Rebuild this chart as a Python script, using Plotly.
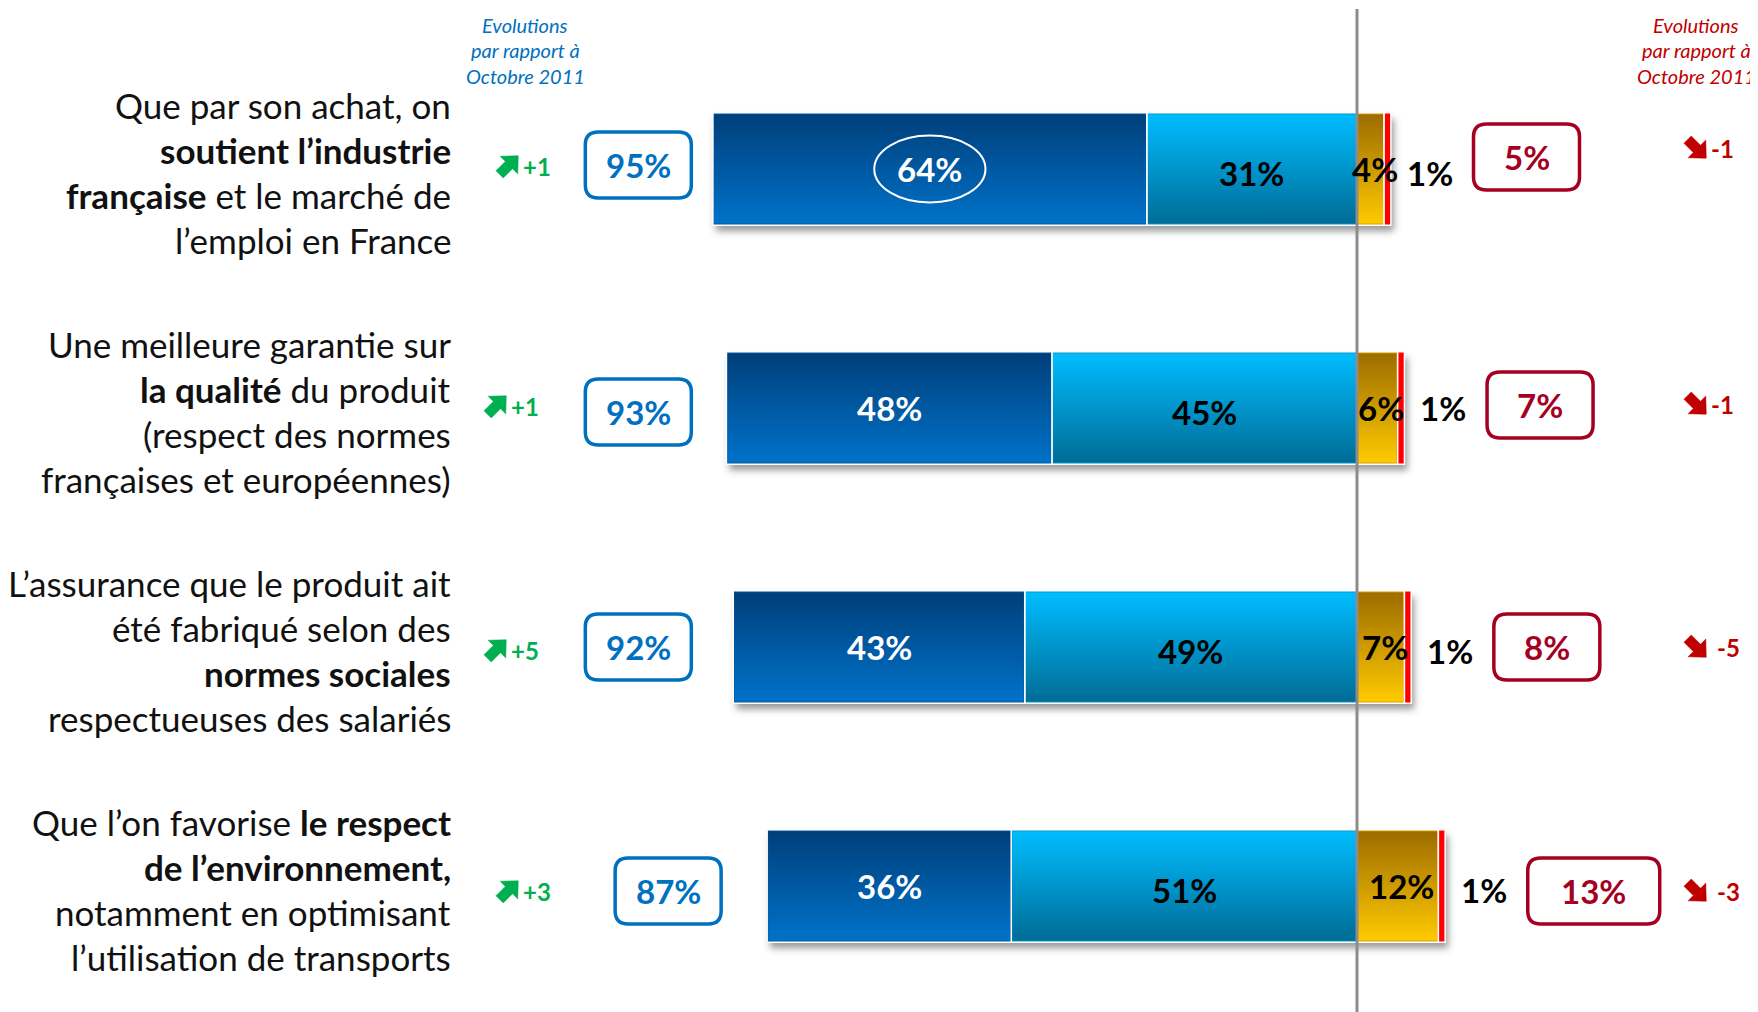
import base64
import math
import plotly.graph_objects as go

# ---------------- data ----------------
categories = [
    "Que par son achat, on<br><b>soutient l’industrie</b><br><b>française</b> et le marché de<br>l’emploi en France",
    "Une meilleure garantie sur<br><b>la qualité</b> du produit<br>(respect des normes<br>françaises et européennes)",
    "L’assurance que le produit ait<br>été fabriqué selon des<br><b>normes sociales</b><br>respectueuses des salariés",
    "Que l’on favorise <b>le respect</b><br><b>de l’environnement,</b><br>notamment en optimisant<br>l’utilisation de transports",
]
tout_a_fait = [64, 48, 43, 36]
plutot = [31, 45, 49, 51]
plutot_pas = [4, 6, 7, 12]
pas_du_tout = [1, 1, 1, 1]
total_favorable = [95, 93, 92, 87]
total_defavorable = [5, 7, 8, 13]
evol_favorable = ["+1", "+1", "+5", "+3"]
evol_defavorable = ["-1", "-1", "-5", "-3"]
header_text = ["Evolutions", "par rapport à", "Octobre 2011"]

# ---------------- style ----------------
OFF = 8  # default page body margin
W, H = 1758 - OFF, 1012 - OFF
X0_PX = 1357.0 - OFF
PX_PER_UNIT = 6.78
XMIN = -X0_PX / PX_PER_UNIT
XMAX = (W - X0_PX) / PX_PER_UNIT
ROW0_PX, ROW_STEP = 169.0 - OFF, 239.0
YTOP = -ROW0_PX / ROW_STEP
YBOT = (H - ROW0_PX) / ROW_STEP
BAR_W = 0.47
BAR_H_PX = BAR_W * ROW_STEP
FONT = "Lato"
BLUE = "#0070c0"
DARKRED = "#a50021"
ARROW_RED = "#c00000"
GREEN = "#00b050"


def px(x):
    return (x - OFF) / W


def py(y):
    return 1 - (y - OFF) / H


rows = list(range(len(categories)))

fig = go.Figure()
fig.add_trace(go.Bar(y=rows, x=[-v for v in plutot], orientation="h", width=BAR_W,
                     marker=dict(color="#0096cc", line=dict(color="white", width=1.5)),
                     name="Plutôt", hoverinfo="skip"))
fig.add_trace(go.Bar(y=rows, x=[-v for v in tout_a_fait], orientation="h", width=BAR_W,
                     marker=dict(color="#0058a0", line=dict(color="white", width=1.5)),
                     name="Tout à fait", hoverinfo="skip"))
fig.add_trace(go.Bar(y=rows, x=plutot_pas, orientation="h", width=BAR_W,
                     marker=dict(color="#d69c00", line=dict(color="white", width=1.5)),
                     name="Plutôt pas", hoverinfo="skip"))
fig.add_trace(go.Bar(y=rows, x=pas_du_tout, orientation="h", width=BAR_W,
                     marker=dict(color="#ff0000", line=dict(color="white", width=1.5)),
                     name="Pas du tout", hoverinfo="skip"))


def b64svg(svg):
    return "data:image/svg+xml;base64," + base64.b64encode(svg.encode()).decode()


def grad_uri(top, bottom):
    svg = ('<svg xmlns="http://www.w3.org/2000/svg" width="10" height="100" viewBox="0 0 10 100" '
           'preserveAspectRatio="none"><defs><linearGradient id="g" x1="0" y1="0" x2="0" y2="1">'
           f'<stop offset="0" stop-color="{top}"/><stop offset="1" stop-color="{bottom}"/>'
           '</linearGradient></defs><rect width="10" height="100" fill="url(#g)"/></svg>')
    return b64svg(svg)


def shadow_uri(wpx, hpx, pad):
    tw, th = wpx + 2 * pad, hpx + 2 * pad
    svg = (f'<svg xmlns="http://www.w3.org/2000/svg" width="{tw:.1f}" height="{th:.1f}" '
           f'viewBox="0 0 {tw:.1f} {th:.1f}" preserveAspectRatio="none"><defs>'
           '<filter id="b" x="-10%" y="-30%" width="120%" height="160%">'
           '<feGaussianBlur stdDeviation="3.5"/></filter></defs>'
           f'<rect x="{pad + 3}" y="{pad + 6}" width="{wpx:.1f}" height="{hpx:.1f}" fill="#555555" '
           'fill-opacity="0.6" filter="url(#b)"/></svg>')
    return b64svg(svg)


G_TOUT = grad_uri("#003f7a", "#0072c9")
G_PLUTOT = grad_uri("#00bdff", "#006c96")
G_PP = grad_uri("#9c6c00", "#ffca00")
gap = 1.0 / PX_PER_UNIT

images = []
shapes = []
annotations = []
PAD = 16
for i in rows:
    # drop shadow
    span = total_favorable[i] + total_defavorable[i]
    wpx = span * PX_PER_UNIT
    images.append(dict(source=shadow_uri(wpx, BAR_H_PX, PAD), xref="x", yref="y",
                       x=-total_favorable[i] - PAD / PX_PER_UNIT, y=i - BAR_W / 2 - PAD / ROW_STEP,
                       sizex=(wpx + 2 * PAD) / PX_PER_UNIT, sizey=(BAR_H_PX + 2 * PAD) / ROW_STEP,
                       xanchor="left", yanchor="top", sizing="stretch", layer="below"))
    segs = [
        (-(plutot[i] + tout_a_fait[i]), tout_a_fait[i], G_TOUT),
        (-plutot[i], plutot[i], G_PLUTOT),
        (0, plutot_pas[i], G_PP),
    ]
    for start, size, src in segs:
        images.append(dict(source=src, xref="x", yref="y", x=start + gap, y=i - BAR_W / 2 + 0.006,
                           sizex=size - 2 * gap, sizey=BAR_W - 0.012, xanchor="left", yanchor="top",
                           sizing="stretch", layer="above"))

# vertical zero line
shapes.append(dict(type="line", xref="x", yref="paper", x0=0, x1=0, y0=0, y1=py(9),
                   line=dict(color="#8c8c8c", width=3), layer="above"))

# ellipse around first label
cx = -(plutot[0] + tout_a_fait[0] / 2)
shapes.append(dict(type="circle", xref="x", yref="y", x0=cx - 8.2, x1=cx + 8.2, y0=-0.14, y1=0.14,
                   line=dict(color="white", width=2), layer="above"))


def rounded(xc, yc, w, h, r, color, dy=0):
    x0, x1 = -w / 2, w / 2
    y0, y1 = dy - h / 2, dy + h / 2
    p = (f"M {x0 + r},{y0} L {x1 - r},{y0} Q {x1},{y0} {x1},{y0 + r} L {x1},{y1 - r} "
         f"Q {x1},{y1} {x1 - r},{y1} L {x0 + r},{y1} Q {x0},{y1} {x0},{y1 - r} "
         f"L {x0},{y0 + r} Q {x0},{y0} {x0 + r},{y0} Z")
    return dict(type="path", xref="x", yref="y", xsizemode="pixel", ysizemode="pixel",
                xanchor=xc, yanchor=yc, path=p, line=dict(color=color, width=3.5),
                fillcolor="white", layer="above")


def arrow_shape(xc_paper, yc, dy, angle, color, s=1.32):
    pts = [(-9, -3.9), (1, -3.9), (1, -9.5), (11, 0), (1, 9.5), (1, 3.9), (-9, 3.9)]
    a = math.radians(angle)
    rp = [(s * (x * math.cos(a) - y * math.sin(a)), s * (x * math.sin(a) + y * math.cos(a)) + dy)
          for x, y in pts]
    p = "M " + " L ".join(f"{x:.2f},{y:.2f}" for x, y in rp) + " Z"
    return dict(type="path", xref="paper", yref="y", xsizemode="pixel", ysizemode="pixel",
                xanchor=xc_paper, yanchor=yc, path=p, line=dict(color=color, width=0.5),
                fillcolor=color, layer="above")


BLUE_BOX_X = [-106, -106, -106, -101.6]
BLUE_BOX_DY = [4, -4, 0, -5]
RED_BOX_OFFSET = 20
RED_BOX_DY = [12, 3, 0, -5]
GREEN_X = [(508, 537), (496, 525), (496, 525), (508, 537)]
GREEN_DY = [3, 2, -3, -5]
RED_DY = [21, 4, 0, -5]
RED_TXT_X = [1722, 1722, 1728, 1728]

lab_font = dict(family=FONT, size=33, color="black")
for i in rows:
    # category label, line by line
    lines = categories[i].split("<br>")
    n = len(lines)
    for j, ln in enumerate(lines):
        annotations.append(dict(text=ln, xref="paper", yref="y", x=px(453), y=i, xanchor="right",
                                yanchor="middle", yshift=((n - 1) / 2 - j) * 45 - 3, showarrow=False,
                                font=dict(family=FONT, size=35, color="#111111")))
    # segment labels
    annotations.append(dict(text=f"<b>{tout_a_fait[i]}%</b>", x=-(plutot[i] + tout_a_fait[i] / 2), y=i,
                            xref="x", yref="y", showarrow=False,
                            font=dict(family=FONT, size=33, color="white")))
    annotations.append(dict(text=f"<b>{plutot[i]}%</b>", x=-plutot[i] / 2, y=i, yshift=-4,
                            xref="x", yref="y", showarrow=False, font=lab_font))
    annotations.append(dict(text=f"<b>{plutot_pas[i]}%</b>", x=plutot_pas[i] / 2, y=i, xshift=4,
                            xref="x", yref="y", showarrow=False, font=lab_font))
    annotations.append(dict(text=f"<b>{pas_du_tout[i]}%</b>", x=plutot_pas[i] + pas_du_tout[i], y=i,
                            xshift=14, yshift=-4 if i != 1 else 0, xanchor="left",
                            xref="x", yref="y", showarrow=False, font=lab_font))
    # blue box
    shapes.append(rounded(BLUE_BOX_X[i], i, 106, 66, 13, BLUE, BLUE_BOX_DY[i]))
    annotations.append(dict(text=f"<b>{total_favorable[i]}%</b>", x=BLUE_BOX_X[i], y=i,
                            yshift=BLUE_BOX_DY[i], xref="x", yref="y", showarrow=False,
                            font=dict(family=FONT, size=33, color=BLUE)))
    # red box
    bw = 106 if total_defavorable[i] < 10 else 132
    rx = total_defavorable[i] + RED_BOX_OFFSET + (bw - 106) / 2 / PX_PER_UNIT
    shapes.append(rounded(rx, i, bw, 66, 13, DARKRED, RED_BOX_DY[i]))
    annotations.append(dict(text=f"<b>{total_defavorable[i]}%</b>", x=rx, y=i,
                            yshift=RED_BOX_DY[i], xref="x", yref="y", showarrow=False,
                            font=dict(family=FONT, size=33, color=DARKRED)))
    # green evolution
    ax, tx = GREEN_X[i]
    shapes.append(arrow_shape(px(ax), i, GREEN_DY[i], 45, GREEN))
    annotations.append(dict(text=f"<b>{evol_favorable[i]}</b>", x=px(tx), y=i, xref="paper", yref="y",
                            xanchor="center", yanchor="middle", yshift=GREEN_DY[i], showarrow=False,
                            font=dict(family=FONT, size=24, color=GREEN)))
    # red evolution
    shapes.append(arrow_shape(px(1696), i, RED_DY[i], -45, ARROW_RED))
    annotations.append(dict(text=f"<b>{evol_defavorable[i]}</b>", x=px(RED_TXT_X[i]), y=i,
                            xanchor="center", yanchor="middle", xref="paper", yref="y",
                            yshift=RED_DY[i], showarrow=False,
                            font=dict(family=FONT, size=24, color=ARROW_RED)))

# headers
for k, t in enumerate(header_text):
    yy = [25, 50, 76][k]
    annotations.append(dict(text=f"<i>{t}</i>", x=px(525), y=py(yy), xref="paper", yref="paper",
                            xanchor="center", yanchor="middle", showarrow=False,
                            font=dict(family=FONT, size=20, color=BLUE)))
    annotations.append(dict(text=f"<i>{t}</i>", x=px(1696), y=py(yy), xref="paper", yref="paper",
                            xanchor="center", yanchor="middle", showarrow=False,
                            font=dict(family=FONT, size=20, color=ARROW_RED)))

fig.update_layout(
    width=W, height=H, barmode="relative", showlegend=False,
    margin=dict(l=0, r=0, t=0, b=0),
    paper_bgcolor="white", plot_bgcolor="rgba(0,0,0,0)",
    xaxis=dict(range=[XMIN, XMAX], visible=False, fixedrange=True),
    yaxis=dict(range=[YBOT, YTOP], visible=False, fixedrange=True),
    images=images, shapes=shapes, annotations=annotations,
)
fig.write_html("out.html")
